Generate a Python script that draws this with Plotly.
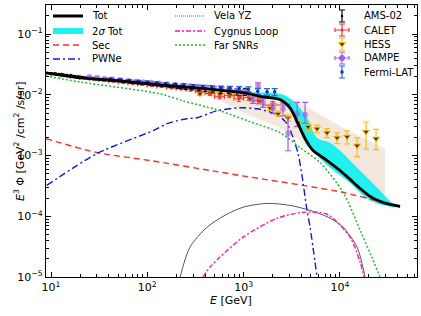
import plotly.graph_objects as go

# ---------------- model curves (E [GeV], E^3 Phi [GeV^2/cm^2/s/sr]) ----------------
tot_E = [8.87, 20.0, 52.1, 135.5, 530, 1164, 1479, 2388, 3034, 3673, 4345, 5260, 6209, 7345,
         10023, 12735, 16180, 20560, 26060, 33110, 42070]
tot_F = [0.02296, 0.01901, 0.01698, 0.01459, 0.01208, 0.01038, 0.00940, 0.00840, 0.00612, 0.00335,
         0.00190, 0.00121, 0.00100, 0.000828, 0.000568, 0.000405, 0.000288, 0.000213, 0.000176,
         0.000157, 0.000146]

sec_E = [8.87, 30.1, 107, 448, 918, 10800, 42070]
sec_F = [0.00190, 0.00112, 0.000828, 0.000568, 0.000470, 0.000247, 0.000141]

pwn_E = [9.02, 30.1, 114.6, 160, 258, 328, 530, 918, 1377, 2223, 2825, 3258, 3673, 4036, 4550, 4898, 5780]
pwn_F = [0.000322, 0.00108, 0.00257, 0.00335, 0.00405, 0.00420, 0.00547, 0.00612, 0.00589, 0.00470,
         0.00335, 0.00197, 0.00108, 0.00047, 0.000125, 0.000066, 0.00001]

far_E = [8.87, 20.0, 135.5, 235, 530, 1164, 2388, 3855, 6209, 10800, 16180, 20560, 26060]
far_F = [0.0205, 0.0163, 0.01038, 0.00798, 0.00568, 0.00361, 0.00238, 0.00135, 0.000767, 0.000247,
         0.0000589, 0.0000247, 0.00001]

vela_E = [219, 277, 417, 641, 986, 1750, 3034, 4898, 7890, 10770, 15070, 18240]
vela_F = [1.0e-5, 3.10e-5, 6.6e-5, 1.04e-4, 1.41e-4, 1.63e-4, 1.51e-4, 1.25e-4, 9.3e-5, 6.6e-5, 3.1e-5, 1.0e-5]

cyg_E = [378, 448, 569, 986, 2223, 4140, 7345, 12735, 16180, 17800]
cyg_F = [1.0e-5, 1.46e-5, 2.13e-5, 4.53e-5, 9.27e-5, 1.16e-4, 1.08e-4, 4.53e-5, 1.76e-5, 1.0e-5]

band_up_E = [700, 1164, 2388, 3258, 4550, 5780, 7890, 10023, 12735, 19100, 26060, 35400, 42070]
band_up_F = [0.0125, 0.01119, 0.01038, 0.00798, 0.00420, 0.00197, 0.00163, 0.00121, 0.000828,
             0.000436, 0.000267, 0.000163, 0.000146]
band_lo_E = [700, 1164, 2388, 3258, 3855, 4550, 5780, 7890, 12735, 19100, 26060, 42070]
band_lo_F = [0.0120, 0.00964, 0.00798, 0.00453, 0.00257, 0.00146, 0.00100, 0.00063, 0.000355,
             0.000197, 0.000157, 0.000141]

beige_up_E = [313, 569, 1479, 3034, 4898, 10770, 29380]
beige_up_F = [0.01208, 0.01164, 0.01038, 0.00893, 0.00589, 0.00288, 0.00130]
beige_lo_E = [313, 569, 1164, 2388, 3855, 7890, 29380]
beige_lo_F = [0.01164, 0.00798, 0.00453, 0.00288, 0.00176, 0.000685, 0.000221]

# ---------------- data ----------------
ams_E = [10.0, 11.0, 12.0, 13.2, 14.5, 16.0, 17.5, 19.2, 21.1, 23.2, 25.5, 28.0, 30.8, 33.8, 37.2,
         40.9, 45.0, 49.5, 54.4, 59.8, 65.8, 72.3, 79.5, 87.4, 96.1, 106, 117, 128, 141, 155, 171,
         188, 207, 227, 250, 290, 340, 400, 480, 580, 700, 850, 1030]
ams_F = [0.0228, 0.0225, 0.0221, 0.0217, 0.0213, 0.0209, 0.0204, 0.0200, 0.0196, 0.0192, 0.0189,
         0.0186, 0.0182, 0.0179, 0.0176, 0.0173, 0.0171, 0.0169, 0.0166, 0.0163, 0.0161, 0.0159,
         0.0156, 0.0154, 0.0152, 0.0149, 0.0147, 0.0145, 0.0143, 0.0141, 0.0139, 0.0137, 0.0134,
         0.0132, 0.0130, 0.0128, 0.0125, 0.0121, 0.0120, 0.0115, 0.0117, 0.0112, 0.0113]
ams_err = [0.0004, 0.0004, 0.0004, 0.0004, 0.0004, 0.0004, 0.0004, 0.0004, 0.0004, 0.0004, 0.0004,
           0.0004, 0.0004, 0.0004, 0.0004, 0.0004, 0.0004, 0.0004, 0.0004, 0.0004, 0.0004, 0.0004,
           0.0004, 0.0004, 0.0004, 0.0004, 0.0005, 0.0005, 0.0005, 0.0005, 0.0005, 0.0006, 0.0006,
           0.0006, 0.0007, 0.0007, 0.0008, 0.0008, 0.0009, 0.0010, 0.0011, 0.0013, 0.0015]

calet_E = [11.3, 14.2, 17.8, 22.4, 28.2, 35.5, 44.7, 56.2, 70.8, 89.1, 112, 141, 178, 224, 282, 355,
           447, 562, 708, 891, 1120, 1410, 2000]
calet_F = [0.0218, 0.0208, 0.0199, 0.0189, 0.0181, 0.0174, 0.0167, 0.0160, 0.0154, 0.0148, 0.0142,
           0.0137, 0.0131, 0.0126, 0.0121, 0.0114, 0.0105, 0.0093, 0.0098, 0.0086, 0.0091, 0.0080,
           0.0068]
calet_err = [0.0005, 0.0005, 0.0005, 0.0005, 0.0005, 0.0005, 0.0005, 0.0005, 0.0005, 0.0005, 0.0005,
             0.0005, 0.0005, 0.0005, 0.0006, 0.0006, 0.0007, 0.0007, 0.0008, 0.0008, 0.0009, 0.0009,
             0.0010]
calet_xlo = [1.3, 1.6, 2.0, 2.5, 3.2, 4.0, 5.0, 6.3, 8.0, 10, 13, 16, 20, 25, 32, 40, 50, 63, 80, 100,
             130, 160, 420]
calet_xhi = [1.5, 1.8, 2.3, 2.8, 3.6, 4.5, 5.6, 7.1, 9.0, 11, 14, 18, 22, 28, 36, 45, 56, 71, 90, 110,
             140, 180, 1000]

dampe_E = [25, 30, 36, 43, 52, 63, 76, 91, 110, 133, 160, 193, 232, 280, 338, 407, 490, 590, 711, 857,
           1030, 1250, 1413, 1590, 2020, 2565, 2890, 3590, 4345]
dampe_F = [0.0196, 0.0191, 0.0185, 0.0180, 0.0175, 0.0170, 0.0166, 0.0162, 0.0158, 0.0154, 0.0150,
           0.0146, 0.0143, 0.0140, 0.0137, 0.0134, 0.0130, 0.0127, 0.0122, 0.0118, 0.0112, 0.0082,
           0.0141, 0.0074, 0.0061, 0.0059, 0.0023, 0.0049, 0.0047]
dampe_eup = [0.0005, 0.0005, 0.0005, 0.0005, 0.0005, 0.0005, 0.0005, 0.0005, 0.0005, 0.0005, 0.0005,
             0.0005, 0.0005, 0.0006, 0.0006, 0.0006, 0.0007, 0.0007, 0.0008, 0.0009, 0.0010, 0.0010,
             0.0016, 0.0012, 0.0012, 0.0014, 0.0019, 0.0026, 0.0028]
dampe_elo = [0.0005, 0.0005, 0.0005, 0.0005, 0.0005, 0.0005, 0.0005, 0.0005, 0.0005, 0.0005, 0.0005,
             0.0005, 0.0005, 0.0006, 0.0006, 0.0006, 0.0007, 0.0007, 0.0008, 0.0009, 0.0010, 0.0010,
             0.0016, 0.0012, 0.0012, 0.0014, 0.0011, 0.0019, 0.0013]

fermi_E = [42, 52, 65, 81, 100, 125, 155, 195, 240, 300, 375, 465, 580, 720, 900, 1120, 1400, 1750, 2100]
fermi_F = [0.0183, 0.0178, 0.0172, 0.0167, 0.0163, 0.0158, 0.0153, 0.0149, 0.0145, 0.0141, 0.0137,
           0.0134, 0.0131, 0.0129, 0.0127, 0.0124, 0.0115, 0.0113, 0.0112]
fermi_err = [0.0006, 0.0006, 0.0006, 0.0006, 0.0006, 0.0006, 0.0006, 0.0006, 0.0007, 0.0007, 0.0007,
             0.0008, 0.0008, 0.0009, 0.0010, 0.0011, 0.0013, 0.0014, 0.0015]

hess_E = [352, 448, 569, 722, 918, 1164, 1479, 1879, 2275, 2890, 3673, 4667, 5780, 7345, 9330, 11860,
          15070, 18660, 23710]
hess_F = [0.0104, 0.0107, 0.0104, 0.0100, 0.0096, 0.0086, 0.0080, 0.0061, 0.0049, 0.0042, 0.00347,
          0.00299, 0.00277, 0.00238, 0.00197, 0.00205, 0.00146, 0.00247, 0.00190]
hess_eup = [0.0006, 0.0006, 0.0006, 0.0006, 0.0006, 0.0006, 0.0006, 0.0005, 0.0005, 0.0005, 0.0004,
            0.0004, 0.0004, 0.0004, 0.0004, 0.0005, 0.0005, 0.0011, 0.0008]
hess_elo = [0.0006, 0.0006, 0.0006, 0.0006, 0.0006, 0.0006, 0.0006, 0.0005, 0.0005, 0.0005, 0.0004,
            0.0004, 0.0004, 0.0004, 0.0004, 0.0005, 0.0005, 0.0012, 0.00065]

# ---------------- axis ticks ----------------
x_major = [10, 100, 1000, 10000]
x_major_text = ["10<sup>1</sup>", "10<sup>2</sup>", "10<sup>3</sup>", "10<sup>4</sup>"]
y_major = [1e-5, 1e-4, 1e-3, 1e-2, 1e-1]
y_major_text = ["10<sup>−5</sup>", "10<sup>−4</sup>", "10<sup>−3</sup>", "10<sup>−2</sup>", "10<sup>−1</sup>"]
x_minor = [m * 10 ** d for d in range(0, 5) for m in range(2, 10)]
y_minor = [m * 10.0 ** d for d in range(-5, 0) for m in range(2, 10)]

FONT = "DejaVu Sans"
C_CYAN = "#22f0f0"
C_BEIGE = "#f3e8dd"
C_RED = "#ff2a2a"
C_BLUE = "#1515e6"
C_GREEN = "#22bb33"
C_MAG = "#ff1aa0"
C_GRAY = "#444444"
C_HESS = "#ffbb11"
C_DAMPE = "#a25ee8"
C_FERMI = "#2266ee"
C_CALET = "#ee3333"

fig = go.Figure()

# shaded bands
fig.add_trace(go.Scatter(x=beige_up_E + beige_lo_E[::-1], y=beige_up_F + beige_lo_F[::-1],
                         fill="toself", fillcolor=C_BEIGE, line=dict(width=0), mode="lines",
                         showlegend=False, hoverinfo="skip"))
fig.add_trace(go.Scatter(x=band_up_E + band_lo_E[::-1], y=band_up_F + band_lo_F[::-1],
                         fill="toself", fillcolor=C_CYAN, line=dict(width=0, shape="spline"),
                         mode="lines", showlegend=False, hoverinfo="skip"))

# model components
def add_line(x, y, color, width, dash):
    fig.add_trace(go.Scatter(x=x, y=y, mode="lines", showlegend=False, hoverinfo="skip",
                             line=dict(color=color, width=width, dash=dash, shape="spline", smoothing=0.8)))

add_line(sec_E, sec_F, C_RED, 1.4, "6px,4px")
add_line(pwn_E, pwn_F, C_BLUE, 1.4, "7px,3px,2px,3px")
add_line(vela_E, vela_F, C_GRAY, 0.9, "solid")
add_line(cyg_E, cyg_F, C_MAG, 1.4, "5px,2px,2px,2px")
add_line(far_E, far_F, C_GREEN, 1.5, "2px,2px")

# data
fig.add_trace(go.Scatter(x=hess_E, y=hess_F, mode="markers", showlegend=False,
                         marker=dict(symbol="triangle-down", size=6, color="#4a3a00",
                                     line=dict(color=C_HESS, width=1)),
                         error_y=dict(type="data", array=hess_eup, arrayminus=hess_elo, symmetric=False,
                                      color=C_HESS, thickness=1.2, width=3)))
fig.add_trace(go.Scatter(x=calet_E, y=calet_F, mode="markers", showlegend=False,
                         marker=dict(symbol="circle", size=3, color=C_CALET),
                         error_y=dict(type="data", array=calet_err, color=C_CALET, thickness=1, width=2),
                         error_x=dict(type="data", array=calet_xhi, arrayminus=calet_xlo, symmetric=False,
                                      color=C_CALET, thickness=1, width=2)))
fig.add_trace(go.Scatter(x=ams_E, y=ams_F, mode="markers", showlegend=False,
                         marker=dict(symbol="circle", size=2.5, color="black"),
                         error_y=dict(type="data", array=ams_err, color="black", thickness=1, width=2)))
fig.add_trace(go.Scatter(x=dampe_E, y=dampe_F, mode="markers", showlegend=False,
                         marker=dict(symbol="circle", size=6, color=C_DAMPE, opacity=0.6),
                         error_y=dict(type="data", array=dampe_eup, arrayminus=dampe_elo, symmetric=False,
                                      color=C_DAMPE, thickness=1.2, width=3)))
fig.add_trace(go.Scatter(x=fermi_E, y=fermi_F, mode="markers", showlegend=False,
                         marker=dict(symbol="circle", size=3.5, color="#1133aa"),
                         error_y=dict(type="data", array=fermi_err, color=C_FERMI, thickness=1.2, width=3)))

# total
add_line(tot_E, tot_F, "black", 2.8, "solid")

# ---------------- manual legend (overlay axes in 0..1 plot fraction) ----------------
L, R, T, B = 46, 4, 5, 39
W, H = 421, 316
PW, PH = W - L - R, H - T - B

def fx(px):
    return (px - L) / PW

def fy(py):
    return (H - B - py) / PH

leg_lines = [
    ("Tot", "black", 3.0, "solid", 53, 16),
    ("2<i>σ</i> Tot", C_CYAN, 6.0, "solid", 53, 31),
    ("Sec", C_RED, 1.4, "6px,4px", 53, 45),
    ("PWNe", C_BLUE, 1.4, "7px,3px,2px,3px", 53, 59),
    ("Vela YZ", "#666666", 1.0, "1px,1px", 175, 16),
    ("Cygnus Loop", C_MAG, 1.4, "5px,2px,2px,2px", 175, 31),
    ("Far SNRs", C_GREEN, 1.5, "2px,2px", 175, 45),
]
annotations = []
for name, col, wd, dash, x0, yy in leg_lines:
    fig.add_trace(go.Scatter(x=[fx(x0), fx(x0 + 30)], y=[fy(yy), fy(yy)], xaxis="x2", yaxis="y2",
                             mode="lines", line=dict(color=col, width=wd, dash=dash),
                             showlegend=False, hoverinfo="skip"))
    annotations.append(dict(x=fx(x0 + 37), y=fy(yy), xref="paper", yref="paper", text=name,
                            showarrow=False, xanchor="left", yanchor="middle",
                            font=dict(family=FONT, size=10, color="black")))

leg_data = [
    ("AMS-02", "black", "black", "circle", 2.5, 16, 0),
    ("CALET", C_CALET, C_CALET, "circle", 3, 30, 7),
    ("HESS", C_HESS, "#4a3a00", "triangle-down", 6, 44, 0),
    ("DAMPE", C_DAMPE, C_DAMPE, "circle", 6, 58, 7),
    ("Fermi-LAT", C_FERMI, "#1133aa", "circle", 3.5, 72, 0),
]
for name, ecol, mcol, sym, sz, yy, xe in leg_data:
    fig.add_trace(go.Scatter(x=[fx(342)], y=[fy(yy)], xaxis="x2", yaxis="y2", mode="markers",
                             marker=dict(symbol=sym, size=sz, color=mcol,
                                         line=dict(color=ecol, width=1 if sym == "triangle-down" else 0)),
                             error_y=dict(type="constant", value=6 / PH, color=ecol, thickness=1.2, width=3),
                             error_x=dict(type="constant", value=xe / PW, color=ecol, thickness=1.2, width=2,
                                          visible=xe > 0),
                             showlegend=False, hoverinfo="skip"))
    annotations.append(dict(x=fx(362), y=fy(yy), xref="paper", yref="paper", text=name,
                            showarrow=False, xanchor="left", yanchor="middle",
                            font=dict(family=FONT, size=10, color="black")))

# axis titles
annotations.append(dict(x=fx(231), y=fy(300), xref="paper", yref="paper", text="<i>E</i> [GeV]",
                        showarrow=False, xanchor="center", yanchor="middle",
                        font=dict(family=FONT, size=11, color="black")))
annotations.append(dict(x=fx(19), y=fy(141), xref="paper", yref="paper",
                        text="<i>E</i><sup>3</sup> Φ [GeV<sup>2</sup> /cm<sup>2</sup> /s/sr]",
                        textangle=-90, showarrow=False, xanchor="center", yanchor="middle",
                        font=dict(family=FONT, size=11, color="black")))

axis_common = dict(showgrid=False, zeroline=False, showline=True, linecolor="black", linewidth=1.2,
                   mirror="allticks", ticks="inside", ticklen=5, tickwidth=1, tickcolor="black",
                   tickfont=dict(family=FONT, size=11, color="black"))

fig.update_layout(
    width=W, height=H, margin=dict(l=L, r=R, t=T, b=B),
    paper_bgcolor="white", plot_bgcolor="white", showlegend=False,
    xaxis=dict(type="log", range=[0.948, 4.80], tickmode="array", tickvals=x_major, ticktext=x_major_text,
               minor=dict(tickmode="array", tickvals=x_minor, ticks="inside", ticklen=3, tickcolor="black",
                          tickwidth=1),
               **axis_common),
    yaxis=dict(type="log", range=[-5, -0.52], tickmode="array", tickvals=y_major, ticktext=y_major_text,
               minor=dict(tickmode="array", tickvals=y_minor, ticks="inside", ticklen=3, tickcolor="black",
                          tickwidth=1),
               **axis_common),
    xaxis2=dict(overlaying="x", range=[0, 1], visible=False, fixedrange=True),
    yaxis2=dict(overlaying="y", range=[0, 1], visible=False, fixedrange=True),
    annotations=annotations,
)

fig.write_html("out.html", config={"displayModeBar": False},
               post_script="document.body.style.margin='0px';")
